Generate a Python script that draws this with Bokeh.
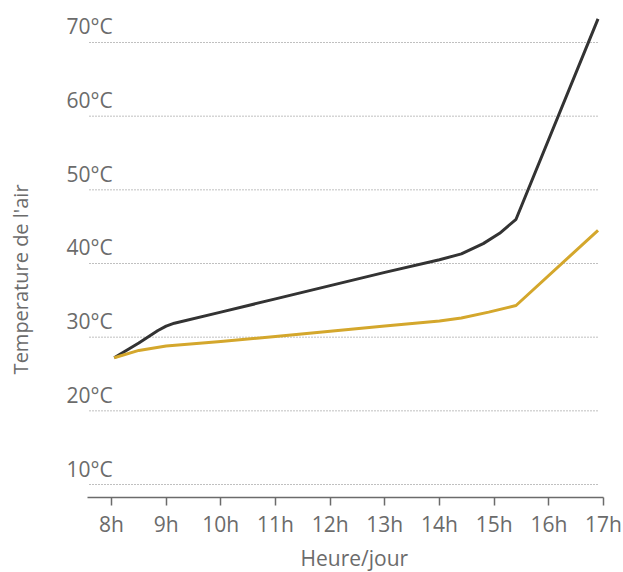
import numpy as np
from bokeh.plotting import figure
from bokeh.models import FixedTicker, Range1d, Title
from bokeh.core.properties import value
from bokeh.embed import file_html
from bokeh.resources import INLINE

# ---- data ----
hours_black = [8.05, 8.5, 8.85, 9.0, 9.15, 10.0, 11.0, 12.0, 13.0, 14.0, 14.4, 14.8, 15.1, 15.4, 16.9]
temp_black = [27.2, 29.2, 30.9, 31.5, 31.9, 33.4, 35.2, 37.0, 38.8, 40.5, 41.3, 42.7, 44.1, 46.0, 73.2]

hours_gold = [8.05, 8.5, 9.0, 10.0, 11.0, 12.0, 13.0, 14.0, 14.4, 14.9, 15.4, 16.9]
temp_gold = [27.2, 28.2, 28.8, 29.4, 30.1, 30.8, 31.5, 32.2, 32.6, 33.4, 34.3, 44.5]

y_ticks = [10, 20, 30, 40, 50, 60, 70]
y_tick_labels = ["10°C", "20°C", "30°C", "40°C", "50°C", "60°C", "70°C"]
x_ticks = [8, 9, 10, 11, 12, 13, 14, 15, 16, 17]
x_tick_labels = ["8h", "9h", "10h", "11h", "12h", "13h", "14h", "15h", "16h", "17h"]

FONT = "Open Sans"
GREY = "#6b6b6b"

Y0, Y1 = 8.236, 75.70
FRAME_H = 497
px_per_unit = FRAME_H / (Y1 - Y0)

p = figure(width=623, height=572, output_backend="svg", toolbar_location=None,
           x_range=Range1d(5.970, 17.366), y_range=Range1d(Y0, Y1),
           min_border_left=0, min_border_right=0, min_border_top=0, min_border_bottom=75)
p.outline_line_color = None
p.background_fill_color = None
p.border_fill_color = None
p.grid.visible = False
p.yaxis.visible = False

# gridlines (dotted)
grid_x0 = 7.598
grid_x1 = 16.908
p.segment(x0=[grid_x0] * len(y_ticks), x1=[grid_x1] * len(y_ticks), y0=y_ticks, y1=y_ticks,
          line_color="#808080", line_width=1, line_dash="1 2")

# y tick labels above gridlines
label_y = [t + 16 / px_per_unit for t in y_ticks]
p.text(x=[7.177] * len(y_ticks), y=label_y, text=y_tick_labels,
       text_font=value(FONT), text_font_size="21px", text_color=GREY,
       text_align="left", text_baseline="alphabetic")

# vertical axis title
p.text(x=[6.335], y=[37.84], text=["Temperature de l'air"], angle=np.pi / 2,
       text_font=value(FONT), text_font_size="20px", text_color=GREY,
       text_align="center", text_baseline="middle")

# series
p.line(hours_black, temp_black, line_color="#333333", line_width=3, line_join="round")
p.line(hours_gold, temp_gold, line_color="#d4a72c", line_width=3, line_join="round")

# x axis
xa = p.xaxis[0]
xa.bounds = (7.561, 17.0)
xa.ticker = FixedTicker(ticks=x_ticks)
xa.major_label_overrides = {t: l for t, l in zip(x_ticks, x_tick_labels)}
xa.minor_tick_line_color = None
xa.major_tick_in = 0
xa.major_tick_out = 8
xa.major_tick_line_color = GREY
xa.major_tick_line_width = 1.5
xa.axis_line_color = GREY
xa.axis_line_width = 1.5
xa.major_label_text_font = FONT
xa.major_label_text_font_size = "21px"
xa.major_label_text_color = GREY
xa.major_label_standoff = 4

# x axis title, offset to sit under the axis centre
p.add_layout(Title(text="Heure/jour", align="left", offset=300, standoff=2,
                   text_font=FONT, text_font_size="21px", text_font_style="normal",
                   text_color=GREY), "below")

open("out.html", "w").write(file_html(p, INLINE))
